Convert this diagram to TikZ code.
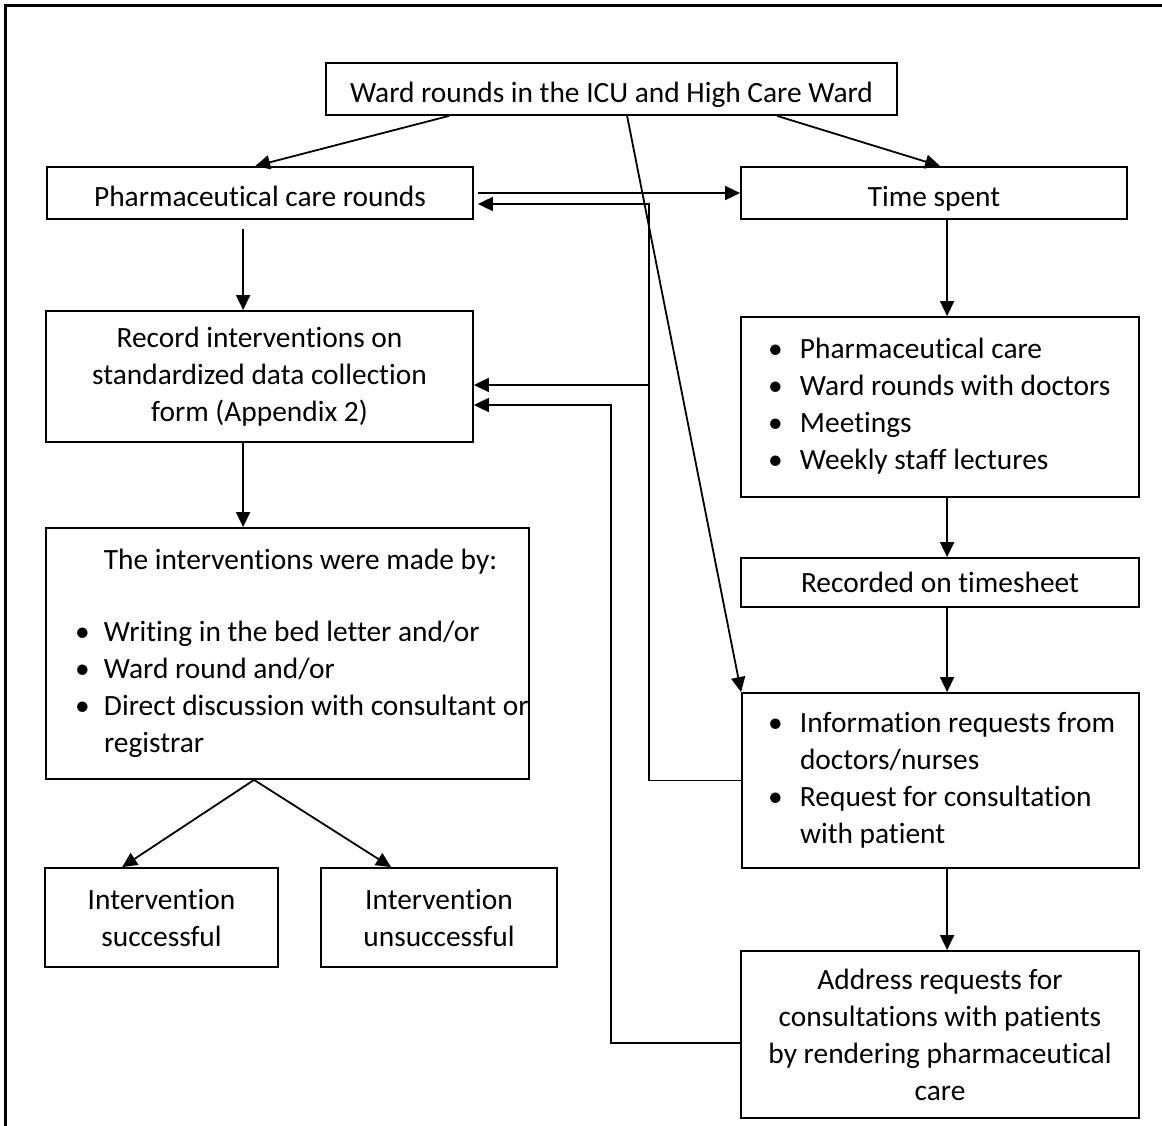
\documentclass[tikz,border=0pt]{standalone}
\usepackage{fontspec}
\setmainfont{Carlito}[Ligatures=NoCommon]
\usetikzlibrary{arrows.meta}
\begin{document}
\begin{tikzpicture}[x=1pt,y=-1pt,
  box/.style={draw, line width=1.8pt, inner sep=0pt, font=\fontsize{29.4}{37}\selectfont},
  cbox/.style={box, align=center},
  lbox/.style={box, align=left},
  oneline/.style={text height=28pt, text depth=1pt},
  arr/.style={line width=1.8pt, -{Triangle[length=15pt,width=14pt]}}]
\useasboundingbox (0,0) rectangle (1162,1126);
\draw[line width=3pt] (5,1130) -- (5,6) -- (1166,6);

\node[cbox, oneline, minimum width=571pt, minimum height=52pt] (top) at (611.5,89) {Ward rounds in the ICU and High Care Ward};
\node[cbox, oneline, minimum width=426pt, minimum height=52pt] (pcr) at (260,193) {Pharmaceutical care rounds};
\node[cbox, oneline, minimum width=386pt, minimum height=52pt] (time) at (934,193) {Time spent};
\node[cbox, minimum width=427pt, minimum height=131pt] (rec) at (259.5,376.5) {Record interventions on\\standardized data collection\\form (Appendix 2)};
\node[lbox, text width=344pt, inner xsep=27pt, minimum height=180pt] (tsb) at (940,407) {\spaceskip=0pt\xspaceskip=0pt%
\begin{tabular}{@{}p{32pt}@{}l@{}}
• & Pharmaceutical care\\
• & Ward rounds with doctors\\
• & Meetings\\
• & Weekly staff lectures
\end{tabular}};
\node[cbox, minimum width=398pt, minimum height=49pt] (tsheet) at (940,582.5) {Recorded on timesheet};
\node[lbox, text width=425pt, inner xsep=29pt, minimum height=251pt] (intv) at (287.5,653.5) {\spaceskip=0pt\xspaceskip=0pt%
\begin{tabular}{@{}p{29pt}@{}l@{}}
\multicolumn{2}{@{}l@{}}{\makebox[451pt][c]{The interventions were made by:}}\\[35pt]
• & Writing in the bed letter and/or\\
• & Ward round and/or\\
• & Direct discussion with consultant or\\
  & registrar
\end{tabular}};
\node[cbox, minimum width=233pt, minimum height=99pt] (succ) at (161.5,917.5) {Intervention\\successful};
\node[cbox, minimum width=236pt, minimum height=99pt] (unsucc) at (439,917.5) {Intervention\\unsuccessful};
\node[lbox, text width=345pt, inner xsep=26pt, minimum height=175pt] (info) at (940.5,780.5) {\spaceskip=0pt\xspaceskip=0pt%
\begin{tabular}{@{}p{32pt}@{}l@{}}
• & Information requests from\\
  & doctors/nurses\\
• & Request for consultation\\
  & with patient
\end{tabular}};
\node[cbox, minimum width=398pt, minimum height=167pt] (addr) at (940,1034.5) {Address requests for\\consultations with patients\\by rendering pharmaceutical\\care};

\coordinate (recA) at ([yshift=-8.5pt]rec.east);
\coordinate (recB) at ([yshift=-28.5pt]rec.east);
\coordinate (pcrB) at ([xshift=4pt,yshift=-11pt]pcr.east);

% from the top box
\draw[arr] ([xshift=124pt]top.south west) -- ([xshift=209pt]pcr.north west);
\draw[arr] ([xshift=452pt]top.south west) -- ([xshift=200pt]time.north west);
\draw[arr] ([xshift=302pt]top.south west) -- (info.north west);

% between pharmaceutical care rounds and time spent
\draw[arr] ([xshift=4pt]pcr.east) -- (time.west);

% feedback from information requests
\draw[arr] (info.west) -- ++(-92,0) coordinate (busb) |- (pcrB);
\draw[arr] (busb |- recA) -- (recA);

% feedback from address requests
\draw[arr] ([yshift=-8.5pt]addr.west) -- ++(-129,0) |- (recB);

% left column
\draw[arr] ([xshift=197pt,yshift=-9pt]pcr.south west) -- ([xshift=198pt]rec.north west);
\draw[arr] ([xshift=198pt]rec.south west) -- ([xshift=198pt]intv.north west);
\draw[arr] ([xshift=209pt]intv.south west) -- ([xshift=78pt]succ.north west);
\draw[arr] ([xshift=209pt]intv.south west) -- ([xshift=71pt]unsucc.north west);

% right column
\draw[arr] ([xshift=207pt]time.south west) -- ([xshift=207pt]tsb.north west);
\draw[arr] ([xshift=207pt]tsb.south west) -- ([xshift=207pt]tsheet.north west);
\draw[arr] ([xshift=207pt]tsheet.south west) -- ([xshift=206pt]info.north west);
\draw[arr] ([xshift=206pt]info.south west) -- ([xshift=207pt]addr.north west);
\end{tikzpicture}
\end{document}
